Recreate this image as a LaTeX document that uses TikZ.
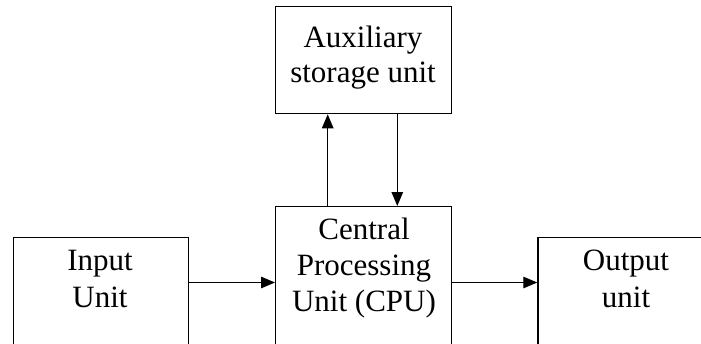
\documentclass[tikz,border=0pt]{standalone}
\usepackage{fontspec}
\setmainfont{Liberation Serif}
\usetikzlibrary{arrows.meta}
\begin{document}
\begin{tikzpicture}[x=1pt,y=-1pt,
  box/.style={draw, line width=1.3pt},
  lbl/.style={anchor=base, inner sep=0pt, font=\fontsize{31pt}{36pt}\selectfont},
  flow/.style={line width=1.3pt, -{Triangle[length=14pt,width=11.5pt]}}]
\useasboundingbox (0,0) rectangle (701,343);
\clip (0,0) rectangle (701,343);
% unit boxes (they run past the lower and right edges)
\node[box, anchor=north west, minimum width=176pt, minimum height=107pt, inner sep=0pt] (aux) at (275,6) {};
\node[box, anchor=north west, minimum width=176pt, minimum height=170pt, inner sep=0pt] (cpu) at (275,206) {};
\node[box, anchor=north west, minimum width=175pt, minimum height=140pt, inner sep=0pt] (in) at (12.7,236.7) {};
\node[box, anchor=north west, minimum width=178pt, minimum height=140pt, inner sep=0pt] (out) at (537.3,236.7) {};
% labels
\node[lbl] (auxA) at (363,47) {Auxiliary};
\node[lbl] (auxB) at (363,82) {storage unit};
\node[lbl] (cpuA) at (364,239) {Central};
\node[lbl] (cpuB) at (364,275) {Processing};
\node[lbl] (cpuC) at (364,311) {Unit (CPU)};
\node[lbl] (inA) at (100,270) {Input};
\node[lbl] (inB) at (100,307) {Unit};
\node[lbl] (outA) at (626,270) {Output};
\node[lbl] (outB) at (626,307) {unit};
% connectors
\coordinate (inR) at (in.east |- 0,282.5);
\coordinate (cpuL) at (cpu.west |- 0,282.5);
\coordinate (cpuR) at (cpu.east |- 0,282.5);
\coordinate (outL) at (out.west |- 0,282.5);
\draw[flow] (inR) -- (cpuL);
\draw[flow] (cpuR) -- (outL);
\draw[flow] (cpu.north -| 327.7,0) -- (aux.south -| 327.7,0);
\draw[flow] (aux.south -| 397.3,0) -- (cpu.north -| 397.3,0);
\end{tikzpicture}
\end{document}
